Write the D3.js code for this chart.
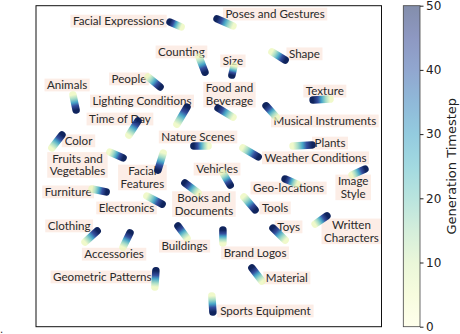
<!DOCTYPE html>
<html><head><meta charset="utf-8">
<script src="https://cdn.jsdelivr.net/npm/d3@7"></script>
<style>body{margin:0;background:#fff;overflow:hidden}</style>
</head><body><svg id="c" width="460" height="334"></svg>
<script>
// ---- data (embedding units, 0..100) ----
const categories = ["Facial Expressions","Poses and Gestures","Counting","Size","Shape","Animals","People","Food and\nBeverage","Texture","Lighting Conditions","Musical Instruments","Time of Day","Color","Nature Scenes","Plants","Fruits and\nVegetables","Facial\nFeatures","Weather Conditions","Vehicles","Image\nStyle","Furniture","Electronics","Books and\nDocuments","Geo-locations","Tools","Clothing","Toys","Written\nCharacters","Accessories","Buildings","Brand Logos","Geometric Patterns","Material","Sports Equipment"];
const labelX = [23.9,69.2,42.1,57.0,77.7,9.0,26.9,56.0,83.6,30.7,83.6,24.3,12.3,46.9,85.1,12.0,30.8,80.9,52.4,91.8,9.3,26.2,48.6,73.1,69.2,9.6,73.1,91.3,22.6,43.0,63.4,19.2,72.6,66.4];
const labelY = [95.2,97.4,85.6,82.8,85.0,75.3,77.2,72.3,73.4,70.3,64.1,64.7,57.9,59.1,57.2,50.4,46.5,52.6,49.1,43.4,42.0,37.0,38.2,43.2,37.0,31.4,31.1,29.7,22.6,25.1,23.0,15.5,15.2,4.9];
// trajectory position at timestep 0 and at timestep 50
const startX = [42.0,57.0,47.2,57.3,68.3,10.7,32.4,57.0,85.1,40.8,69.5,26.9,4.6,49.8,74.4,21.4,36.8,59.9,54.1,91.5,16.2,32.1,46.9,75.5,60.2,14.2,72.1,80.8,25.2,43.7,54.1,34.4,65.4,50.9];
const startY = [93.4,93.7,84.0,81.2,85.6,72.2,77.8,65.3,70.9,63.1,65.3,59.7,55.7,56.3,56.3,54.4,54.1,55.7,47.9,47.3,42.9,40.7,41.7,44.5,40.4,26.4,27.0,32.0,24.8,27.6,26.1,12.4,14.2,9.6];
const endX   = [38.8,52.4,48.9,56.7,72.1,11.6,35.9,52.7,80.2,43.7,66.6,29.5,7.5,45.7,79.9,25.2,35.3,64.3,56.2,95.2,20.3,36.5,43.1,72.1,63.4,17.7,68.6,84.2,27.2,41.1,54.1,34.7,62.5,51.2];
const endY   = [94.9,95.9,79.3,78.4,83.1,67.5,74.7,68.1,70.6,68.4,68.8,64.1,59.7,56.3,56.6,52.6,48.8,52.9,44.1,49.1,42.0,38.2,44.8,46.0,36.4,29.8,30.7,34.5,29.2,31.4,30.1,17.4,18.3,4.6];
const tMin = 0, tMax = 50;
const cbTicks = [0,10,20,30,40,50];
const cbLabel = "Generation Timestep";

// ---- layout ----
const svg = d3.select("#c");
const P = {l:36, r:381.5, t:5.7, b:326.7};
const x = d3.scaleLinear().domain([0,100]).range([P.l,P.r]);
const y = d3.scaleLinear().domain([0,100]).range([P.b,P.t]);
const col = d3.scaleSequential(d3.interpolateYlGnBu).domain([tMin,tMax]);
const defs = svg.append("defs");

// labels
const lg = svg.append("g");
categories.forEach((c,i)=>{
  const lines = c.split("\n");
  const g = lg.append("g").attr("transform",`translate(${x(labelX[i])},${y(labelY[i])})`);
  const rect = g.append("rect").attr("fill","#fcede6");
  const lh = 12.8;
  const t = g.append("text").attr("text-anchor","middle")
    .attr("font-family","Lato, 'Open Sans', sans-serif").attr("font-size",11.6).attr("fill","#2a2a2a");
  lines.forEach((ln,j)=>{
    t.append("tspan").attr("x",0).attr("y", -(lines.length-1)*lh/2 + j*lh + 4.1).text(ln);
  });
  const w = t.node().getBBox().width;
  const h = lines.length*lh;
  rect.attr("x",-w/2-2.5).attr("width",w+5).attr("y",-h/2).attr("height",h);
});

// trajectories
const tg = svg.append("g");
const stopsT = [[0,0.12,0.75],[0.25,0.35,0.8],[0.5,0.6,0.85],[0.72,0.85,0.92],[1,1,0.97]];
categories.forEach((c,i)=>{
  const x1=x(startX[i]), y1=y(startY[i]), x2=x(endX[i]), y2=y(endY[i]);
  const gr = defs.append("linearGradient").attr("id","g"+i).attr("gradientUnits","userSpaceOnUse")
    .attr("x1",x1).attr("y1",y1).attr("x2",x2).attr("y2",y2);
  stopsT.forEach(s=>gr.append("stop").attr("offset",s[0]).attr("stop-color",col(tMin+s[1]*(tMax-tMin))).attr("stop-opacity",s[2]));
  tg.append("line").attr("x1",x1).attr("y1",y1).attr("x2",x2).attr("y2",y2)
    .attr("stroke",`url(#g${i})`).attr("stroke-width",7.5).attr("stroke-linecap","round");
});

// frame
svg.append("rect").attr("x",P.l).attr("y",P.t).attr("width",P.r-P.l).attr("height",P.b-P.t)
  .attr("fill","none").attr("stroke","#111").attr("stroke-width",1);

// colorbar
const cb = {x:403.3, w:16.7};
const cy = d3.scaleLinear().domain([tMin,tMax]).range([P.b,P.t]);
const cg = defs.append("linearGradient").attr("id","cbg").attr("x1",0).attr("y1",1).attr("x2",0).attr("y2",0);
d3.range(0,1.0001,0.1).forEach(o=>cg.append("stop").attr("offset",o).attr("stop-color",col(tMin+o*(tMax-tMin))).attr("stop-opacity",0.5));
svg.append("rect").attr("x",cb.x).attr("y",P.t).attr("width",cb.w).attr("height",P.b-P.t)
  .attr("fill","url(#cbg)").attr("stroke","#444").attr("stroke-width",0.8);
const ax = d3.axisRight(cy).tickValues(cbTicks).tickSize(3.5).tickPadding(2.5).tickFormat(d3.format("d"));
const axg = svg.append("g").attr("transform",`translate(${cb.x+cb.w},0)`).call(ax);
axg.select(".domain").remove();
axg.selectAll("text").attr("font-family","'DejaVu Sans', sans-serif").attr("font-size",12).attr("fill","#222");
axg.selectAll("line").attr("stroke","#222");
svg.append("text").attr("transform",`translate(456,${(P.t+P.b)/2}) rotate(-90)`)
  .attr("text-anchor","middle").attr("font-family","'DejaVu Sans', sans-serif").attr("font-size",13).attr("fill","#222").text(cbLabel);
svg.append("text").attr("x",0).attr("y",333).attr("font-family","'DejaVu Sans', sans-serif").attr("font-size",10).attr("fill","#222").text(".");
</script></body></html>
